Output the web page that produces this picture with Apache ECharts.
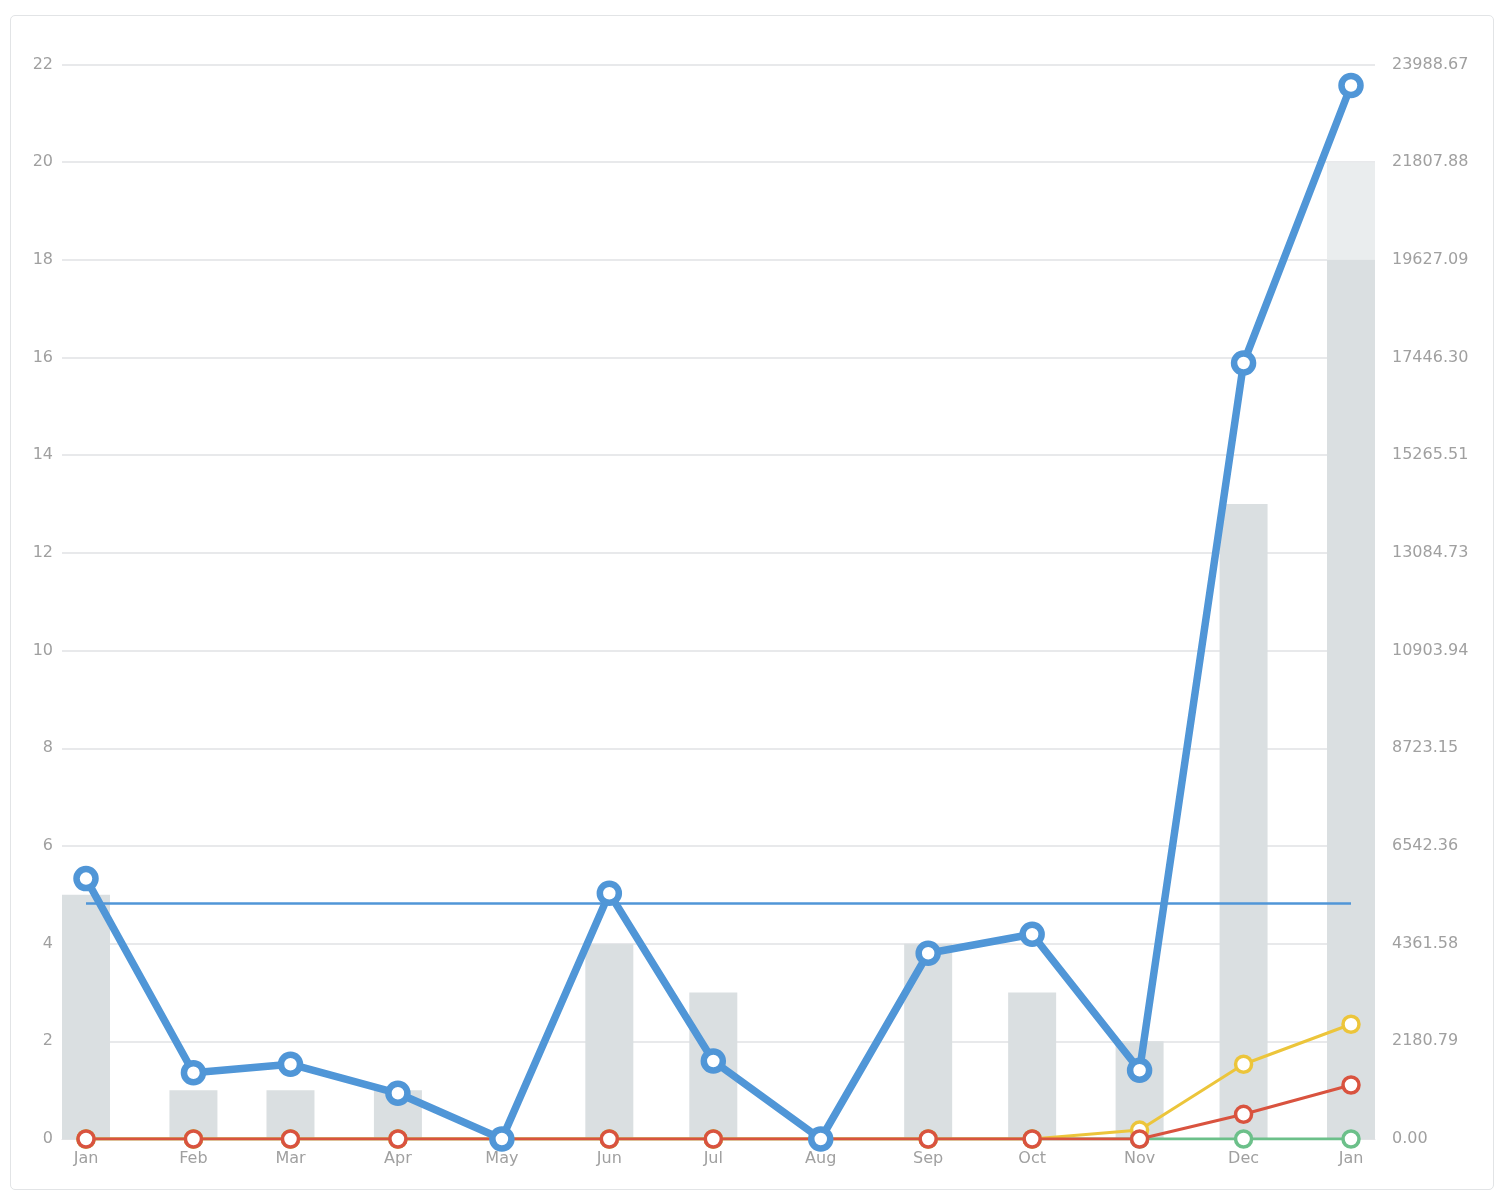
<!DOCTYPE html>
<html>
<head>
<meta charset="utf-8">
<script src="https://cdn.jsdelivr.net/npm/echarts@6/dist/echarts.min.js"></script>
<style>
html,body{margin:0;padding:0;background:#fff;}
#frame{position:absolute;left:10px;top:15px;width:1484px;height:1175px;border:1px solid #e2e4e6;border-radius:5px;box-sizing:border-box;}
#chart{position:absolute;left:0;top:0;width:1508px;height:1200px;}
</style>
</head>
<body>
<div id="frame"></div>
<div id="chart"></div>
<script>
var categories = ['Jan','Feb','Mar','Apr','May','Jun','Jul','Aug','Sep','Oct','Nov','Dec','Jan'];
var monthStarts = ['2022-01','2022-02','2022-03','2022-04','2022-05','2022-06','2022-07','2022-08','2022-09','2022-10','2022-11','2022-12','2023-01'];
var barCounts = [5,1,1,1,0,4,3,0,4,3,2,13,18];
var barExtra = [null,null,null,null,null,null,null,null,null,null,null,null,2];
var blueValues = [5813,1480,1669,1021,0,5487,1742,0,4147,4572,1534,17325,23520];
var yellowValues = [0,0,0,0,0,0,0,0,0,0,200,1669,2562];
var redValues = [0,0,0,0,0,0,0,0,0,0,0,552,1206];
var greenValues = [0,0,0,0,0,0,0,0,0,0,0,0,0];
var leftMax = 22, leftInterval = 2;
var rightMax = 23988.6647;
var rightTicks = ['0.00','2180.79','4361.58','6542.36','8723.15','10903.94','13084.73','15265.51','17446.30','19627.09','21807.88','23988.67'];

var times = monthStarts.map(function(s){var p=s.split('-');return new Date(+p[0], +p[1]-1, 1).getTime();});
function pairs(vals){return vals.map(function(v,i){return [times[i], v];});}
function monthLabel(v){
  var best=-1, bd=Infinity;
  for(var i=0;i<times.length;i++){var d=Math.abs(times[i]-v); if(d<bd){bd=d;best=i;}}
  return bd < 2*86400000 ? categories[best] : '';
}
var blueAvg = blueValues.reduce(function(a,b){return a+b;},0)/blueValues.length;

var chart = echarts.init(document.getElementById('chart'));
var labelStyle = {color:'#a0a0a0', fontSize:16, fontFamily:'DejaVu Sans, sans-serif'};
var gridTop = 64.5, gridBottom = 61;
var DAY = 86400000;
function lineSeries(name, data, color, width, size, border, z){
  return {
    name:name, type:'line', xAxisIndex:1, yAxisIndex:3, data:pairs(data),
    symbol:'circle', symbolSize:size, showAllSymbol:true, z:z,
    lineStyle:{color:color, width:width},
    itemStyle:{color:'#fff', borderColor:color, borderWidth:border},
    emphasis:{disabled:true}, animation:false
  };
}
chart.setOption({
  animation:false,
  grid:[
    {left:62, right:133, top:gridTop, bottom:gridBottom},
    {left:62, right:133, top:gridTop, bottom:gridBottom}
  ],
  xAxis:[
    {type:'value', gridIndex:0, min:0, max:1, show:true,
     axisLine:{show:true, lineStyle:{color:'#e0e2e4'}}, axisTick:{show:false}, axisLabel:{show:false}, splitLine:{show:false}},
    {type:'time', gridIndex:1, min:times[0], max:times[times.length-1],
     minInterval:28*DAY, maxInterval:31*DAY, splitNumber:12,
     axisLine:{show:false}, axisTick:{show:false},
     axisLabel:Object.assign({margin:12, showMinLabel:true, showMaxLabel:true, hideOverlap:false,
       formatter:function(v){return monthLabel(v);}}, labelStyle),
     splitLine:{show:false}}
  ],
  yAxis:[
    {type:'value', gridIndex:0, min:0, max:leftMax, interval:leftInterval, position:'left',
     axisLine:{show:false}, axisTick:{show:false},
     axisLabel:Object.assign({margin:9}, labelStyle),
     splitLine:{show:true, lineStyle:{color:'#e0e2e4', width:1.5}}},
    {type:'value', gridIndex:0, min:0, max:rightMax, interval:rightMax/11, position:'right',
     axisLine:{show:false}, axisTick:{show:false},
     axisLabel:Object.assign({margin:17, formatter:function(v,i){return rightTicks[i];}}, labelStyle),
     splitLine:{show:false}},
    {type:'value', gridIndex:1, min:0, max:leftMax, interval:leftInterval, show:false},
    {type:'value', gridIndex:1, min:0, max:rightMax, interval:rightMax/11, show:false}
  ],
  series:[
    {name:'Count', type:'bar', xAxisIndex:1, yAxisIndex:2, data:pairs(barCounts), stack:'c', barWidth:48,
     itemStyle:{color:'#dadfe1'}, emphasis:{disabled:true}, z:2},
    {name:'Extra', type:'bar', xAxisIndex:1, yAxisIndex:2, data:pairs(barExtra), stack:'c', barWidth:48,
     itemStyle:{color:'#eaedee'}, emphasis:{disabled:true}, z:2},
    lineSeries('Green', greenValues, '#6cc08a', 3, 16, 3.5, 3),
    lineSeries('Yellow', yellowValues, '#ecc53b', 3, 16, 3.5, 4),
    lineSeries('Red', redValues, '#d9533f', 3, 16, 3.5, 5),
    Object.assign(lineSeries('Blue', blueValues, '#5096d7', 7.5, 19, 6.5, 6), {
      markLine:{symbol:'none', silent:true, label:{show:false},
        lineStyle:{color:'#5096d7', width:2.5, type:'solid'},
        data:[[{coord:[times[0], blueAvg]}, {coord:[times[times.length-1], blueAvg]}]]}
    })
  ]
});
</script>
</body>
</html>
